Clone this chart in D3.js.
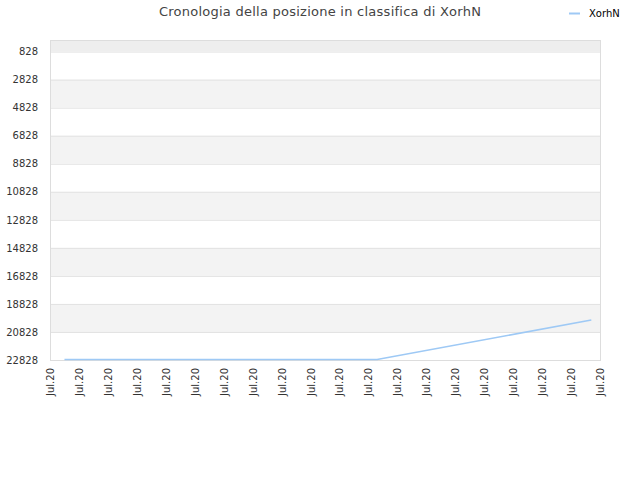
<!DOCTYPE html>
<html>
<head>
<meta charset="utf-8">
<script src="https://cdn.jsdelivr.net/npm/d3@7"></script>
<style>
  body { margin: 0; background: #fff; }
  text { font-family: "DejaVu Sans", sans-serif; }
</style>
</head>
<body>
<svg id="chart" width="640" height="480"></svg>
<script>
// tick labels along the bottom (20 slots, all the same month label)
const xLabels = ['Jul.20', 'Jul.20', 'Jul.20', 'Jul.20', 'Jul.20', 'Jul.20', 'Jul.20', 'Jul.20', 'Jul.20', 'Jul.20',
                 'Jul.20', 'Jul.20', 'Jul.20', 'Jul.20', 'Jul.20', 'Jul.20', 'Jul.20', 'Jul.20', 'Jul.20', 'Jul.20'];
const yTicks = [828, 2828, 4828, 6828, 8828, 10828, 12828, 14828, 16828, 18828, 20828, 22828];

// series: position in slot units and rank
const seriesX = [0.5, 11.3, 18.7];
const seriesRank = [22800, 22800, 19970];
const seriesName = 'XorhN';

const svg = d3.select('#chart');
const margin = { top: 40, right: 40, bottom: 120, left: 50 };
const width = 640, height = 480;

const x = d3.scaleLinear()
  .domain([0, xLabels.length - 1])
  .range([margin.left, width - margin.right]);

// rank 0 at top
const y = d3.scaleLinear()
  .domain([0, 22828])
  .range([margin.top, height - margin.bottom]);

// alternating bands between ticks
const bandEdges = [0].concat(yTicks);
svg.append('g')
  .selectAll('rect')
  .data(d3.pairs(bandEdges))
  .join('rect')
  .attr('x', margin.left)
  .attr('width', width - margin.right - margin.left)
  .attr('y', d => y(d[0]))
  .attr('height', d => y(d[1]) - y(d[0]))
  .attr('fill', (d, i) => i === 0 ? '#eeeeee' : (i % 2 === 0 ? '#f3f3f3' : '#ffffff'));

// grid lines
svg.append('g')
  .selectAll('line')
  .data(yTicks)
  .join('line')
  .attr('x1', margin.left)
  .attr('x2', width - margin.right)
  .attr('y1', d => y(d) + 0.5)
  .attr('y2', d => y(d) + 0.5)
  .attr('stroke', '#e2e2e2');

// frame
svg.append('rect')
  .attr('x', margin.left + 0.5)
  .attr('y', margin.top + 0.5)
  .attr('width', width - margin.right - margin.left)
  .attr('height', height - margin.bottom - margin.top)
  .attr('fill', 'none')
  .attr('stroke', '#dddddd');

// y axis labels
const yAxis = svg.append('g')
  .attr('transform', `translate(${margin.left},0)`)
  .call(d3.axisLeft(y).tickValues(yTicks).tickSize(0).tickPadding(12).tickFormat(d3.format('d')));
yAxis.select('.domain').remove();
yAxis.selectAll('text').attr('fill', '#333').style('font-size', '10px');

// x axis labels
const xAxis = svg.append('g')
  .attr('transform', `translate(0,${height - margin.bottom})`)
  .call(d3.axisBottom(x).tickValues(d3.range(xLabels.length)).tickSize(0).tickFormat(i => xLabels[i]));
xAxis.select('.domain').remove();
xAxis.selectAll('text')
  .attr('fill', '#333')
  .style('font-size', '10px')
  .attr('transform', 'rotate(-90)')
  .attr('x', -8)
  .attr('y', 0)
  .attr('dy', '0.35em')
  .style('text-anchor', 'end');

// line
const line = d3.line()
  .x((d, i) => x(seriesX[i]))
  .y(d => y(d));

svg.append('path')
  .datum(seriesRank)
  .attr('fill', 'none')
  .attr('stroke', '#9ec9f5')
  .attr('stroke-width', 1.5)
  .attr('d', line);

// title
svg.append('text')
  .attr('x', 320)
  .attr('y', 16)
  .attr('text-anchor', 'middle')
  .attr('fill', '#444')
  .style('font-size', '13px')
  .style('letter-spacing', '0.25px')
  .text('Cronologia della posizione in classifica di XorhN');

// legend
svg.append('line')
  .attr('x1', 569).attr('x2', 580)
  .attr('y1', 13.5).attr('y2', 13.5)
  .attr('stroke', '#9ec9f5')
  .attr('stroke-width', 2);
svg.append('text')
  .attr('x', 589)
  .attr('y', 17)
  .attr('fill', '#000')
  .style('font-size', '10px')
  .text(seriesName);
</script>
</body>
</html>
